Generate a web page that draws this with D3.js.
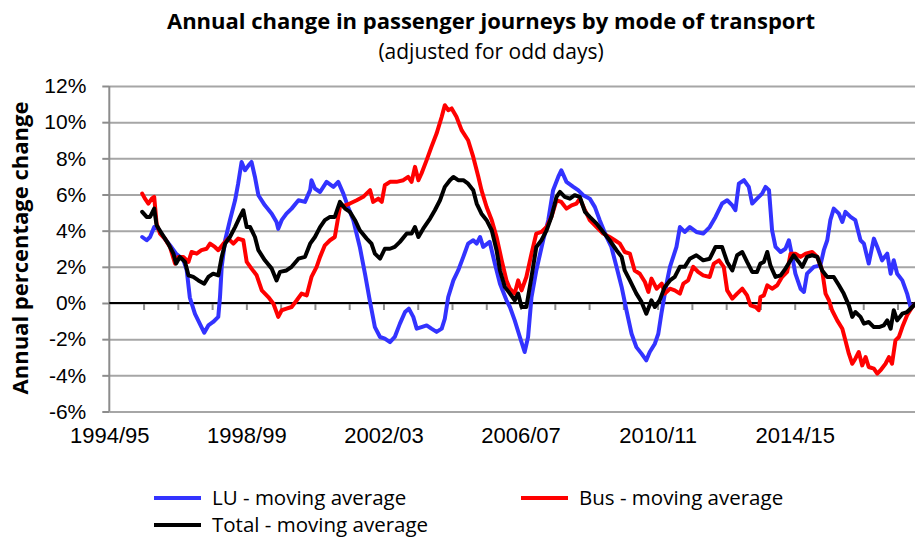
<!DOCTYPE html>
<html>
<head>
<meta charset="utf-8">
<title>Annual change in passenger journeys</title>
<style type="text/css">
body { margin:0; background:#fff; }
svg { display:block; font-family:"Open Sans","Liberation Sans",sans-serif; }
.grid line { stroke:#a6a6a6; stroke-width:2px; }
.grid path { display:none; }
.axis path, .axis line { stroke:#8c8c8c; stroke-width:2px; }
.axis text { font-size:21px; fill:#000; }
.xlab text { font-size:22px; }
.series { fill:none; stroke-width:4px; stroke-linejoin:round; stroke-linecap:round; }
.title { font-weight:bold; font-size:22px; }
.legend text { font-size:20.5px; }
</style>
</head>
<body>
<div id="chart"></div>
<script src="https://cdn.jsdelivr.net/npm/d3@7"></script>
<script type="text/javascript">

// x value = start year of the financial year (fractional = periods through the year)
var yearLabels = ["1994/95","1998/99","2002/03","2006/07","2010/11","2014/15"];
var labelYears = [1994,1998,2002,2006,2010,2014];
var yTicks = [-6,-4,-2,0,2,4,6,8,10,12];

var lu = [[1994.96,3.65],[1995.09,3.47],[1995.19,3.65],[1995.31,4.2],[1995.43,4.1],[1995.58,3.65],[1995.77,3.2],[1995.96,2.7],[1996.16,2.4],[1996.26,1.8],[1996.35,0.3],[1996.5,-0.6],[1996.69,-1.33],[1996.77,-1.64],[1996.89,-1.24],[1997.03,-1.05],[1997.18,-0.77],[1997.23,0.33],[1997.28,2.0],[1997.38,3.47],[1997.52,4.58],[1997.67,5.68],[1997.76,6.6],[1997.86,7.8],[1997.96,7.34],[1998.06,7.6],[1998.15,7.8],[1998.25,6.97],[1998.35,5.96],[1998.54,5.4],[1998.74,4.94],[1998.88,4.48],[1998.93,4.1],[1999.03,4.58],[1999.17,4.94],[1999.32,5.22],[1999.52,5.68],[1999.71,5.59],[1999.86,6.24],[1999.9,6.79],[2000.0,6.33],
	[2000.15,6.14],[2000.34,6.7],[2000.54,6.42],[2000.68,6.7],[2000.83,6.05],[2000.97,5.3],[2001.12,4.58],[2001.31,3.1],[2001.46,1.62],[2001.6,0.15],[2001.75,-1.33],[2001.9,-1.88],[2002.04,-1.97],[2002.19,-2.16],[2002.33,-1.88],[2002.48,-1.14],[2002.63,-0.5],[2002.74,-0.31],[2002.87,-0.77],[2002.97,-1.42],[2003.11,-1.33],[2003.26,-1.24],[2003.4,-1.42],[2003.55,-1.6],[2003.7,-1.42],[2003.79,-0.87],[2003.89,0.33],[2004.04,1.25],[2004.18,1.8],[2004.33,2.55],[2004.47,3.28],[2004.62,3.47],[2004.72,3.28],[2004.82,3.65],[2004.91,3.1],[2005.1,3.38],[2005.25,2.18],[2005.4,1.07],[2005.59,0.15],
	[2005.69,-0.22],[2005.83,-0.96],[2005.98,-1.88],[2006.12,-2.71],[2006.22,-1.88],[2006.32,0.33],[2006.46,1.8],[2006.66,3.47],[2006.81,4.58],[2006.95,6.24],[2007.1,6.97],[2007.19,7.34],[2007.34,6.7],[2007.54,6.42],[2007.68,6.24],[2007.83,5.96],[2008.02,5.77],[2008.17,5.3],[2008.31,4.58],[2008.51,3.65],[2008.65,3.1],[2008.8,2.0],[2008.95,0.89],[2009.09,-0.4],[2009.24,-1.7],[2009.38,-2.44],[2009.53,-2.8],[2009.67,-3.17],[2009.77,-2.71],[2009.92,-2.25],[2010.02,-1.7],[2010.11,-0.59],[2010.26,1.07],[2010.36,2.0],[2010.55,3.1],[2010.65,4.2],[2010.79,3.93],[2010.94,4.2],[2011.13,3.93],[2011.33,3.84],[2011.52,4.2],
	[2011.69,4.76],[2011.88,5.5],[2012.03,5.68],[2012.18,5.4],[2012.27,5.13],[2012.37,6.6],[2012.52,6.79],[2012.66,6.42],[2012.76,5.5],[2012.9,5.77],[2013.05,6.05],[2013.15,6.42],[2013.25,6.24],[2013.34,4.02],[2013.44,3.1],[2013.59,2.82],[2013.73,3.0],[2013.83,3.47],[2013.93,2.55],[2014.02,1.62],[2014.17,0.79],[2014.27,0.61],[2014.36,1.62],[2014.56,2.0],[2014.75,2.08],[2014.85,2.92],[2014.95,3.47],[2015.04,4.58],[2015.14,5.22],[2015.29,4.94],[2015.39,4.48],[2015.48,5.04],[2015.63,4.76],[2015.77,4.58],[2015.92,3.47],[2016.02,3.28],[2016.16,2.18],[2016.31,3.56],[2016.41,3.1],[2016.55,2.36],[2016.7,2.73],[2016.8,1.62],[2016.89,2.36],[2016.99,1.62],[2017.14,1.25],[2017.28,0.52],[2017.38,-0.22],[2017.53,-0.04]];

var bus = [[1994.96,6.05],[1995.04,5.77],[1995.14,5.5],[1995.24,5.77],[1995.31,5.87],[1995.38,4.39],[1995.48,3.84],[1995.62,3.56],[1995.77,3.1],[1995.92,2.18],[1996.01,2.55],[1996.16,2.55],[1996.31,2.27],[1996.4,2.82],[1996.55,2.73],[1996.69,2.92],[1996.84,3.0],[1996.94,3.28],[1997.08,3.1],[1997.18,2.92],[1997.33,3.28],[1997.47,3.56],[1997.62,3.28],[1997.76,3.56],[1997.91,3.47],[1998.01,2.27],[1998.15,1.9],[1998.3,1.53],[1998.45,0.7],[1998.64,0.33],[1998.79,-0.04],[1998.93,-0.77],[1999.03,-0.4],[1999.17,-0.31],[1999.32,-0.22],[1999.47,0.15],[1999.61,0.52],[1999.76,0.42],[1999.9,1.44],[2000.05,2.0],
	[2000.15,2.55],[2000.29,3.19],[2000.44,3.47],[2000.58,3.65],[2000.73,5.31],[2000.88,5.4],[2001.02,5.5],[2001.22,5.68],[2001.41,5.87],[2001.61,6.24],[2001.7,5.59],[2001.85,5.77],[2001.95,5.59],[2002.04,6.51],[2002.19,6.7],[2002.38,6.7],[2002.58,6.79],[2002.72,6.97],[2002.82,6.7],[2002.92,7.53],[2003.02,6.79],[2003.11,7.16],[2003.26,7.9],[2003.4,8.63],[2003.55,9.37],[2003.7,10.3],[2003.79,10.94],[2003.89,10.66],[2003.99,10.76],[2004.13,10.3],[2004.28,9.56],[2004.47,9.0],[2004.62,8.08],[2004.77,6.97],[2004.86,6.24],[2005.01,5.31],[2005.16,4.58],[2005.3,3.65],[2005.45,2.36],[2005.59,1.25],
	[2005.69,0.79],[2005.83,0.52],[2005.93,1.25],[2006.03,0.7],[2006.17,1.44],[2006.32,2.73],[2006.46,3.84],[2006.61,3.93],[2006.76,4.2],[2006.9,4.76],[2007.05,5.68],[2007.19,5.59],[2007.34,5.22],[2007.49,5.4],[2007.63,5.5],[2007.73,5.77],[2007.88,5.13],[2008.02,4.58],[2008.22,4.2],[2008.41,3.84],[2008.6,3.65],[2008.75,3.47],[2008.9,3.28],[2009.04,2.82],[2009.19,2.73],[2009.33,1.8],[2009.48,1.62],[2009.63,1.16],[2009.73,0.61],[2009.82,1.35],[2009.97,0.79],[2010.12,1.07],[2010.21,0.52],[2010.36,0.79],[2010.5,0.7],[2010.65,0.52],[2010.75,1.07],[2010.89,1.25],[2011.04,2.0],[2011.18,1.72],[2011.33,1.53],[2011.52,1.44],
	[2011.64,2.18],[2011.79,2.36],[2011.93,2.0],[2012.03,0.7],[2012.18,0.24],[2012.32,0.52],[2012.47,0.79],[2012.61,0.42],[2012.71,-0.13],[2012.86,-0.22],[2012.95,-0.4],[2013.0,0.33],[2013.1,0.42],[2013.2,0.98],[2013.34,0.79],[2013.49,0.98],[2013.63,1.44],[2013.78,1.72],[2013.88,2.73],[2014.02,2.73],[2014.17,2.55],[2014.32,2.73],[2014.51,2.82],[2014.66,2.55],[2014.8,1.8],[2014.9,0.52],[2015.0,0.15],[2015.09,-0.4],[2015.24,-0.96],[2015.39,-1.42],[2015.48,-2.07],[2015.58,-2.8],[2015.68,-3.36],[2015.77,-3.08],[2015.87,-2.71],[2015.97,-3.45],[2016.07,-2.99],[2016.16,-3.54],[2016.31,-3.63],[2016.41,-3.91],[2016.5,-3.73],[2016.65,-3.36],[2016.75,-2.99],[2016.84,-3.36],[2016.94,-2.07],[2017.04,-1.88],[2017.14,-1.33],[2017.28,-0.68],[2017.43,-0.22],[2017.53,-0.04]];

var total = [[1994.96,5.04],[1995.09,4.76],[1995.19,4.76],[1995.31,5.22],[1995.38,4.3],[1995.53,3.84],[1995.72,3.28],[1995.87,2.73],[1995.95,2.18],[1996.06,2.55],[1996.21,2.27],[1996.31,1.53],[1996.45,1.44],[1996.6,1.25],[1996.77,1.07],[1996.89,1.44],[1997.03,1.62],[1997.18,1.53],[1997.28,2.55],[1997.38,3.28],[1997.52,3.65],[1997.67,4.2],[1997.81,4.76],[1997.91,5.13],[1998.01,4.2],[1998.11,4.2],[1998.25,3.65],[1998.35,2.92],[1998.54,2.36],[1998.74,1.9],[1998.88,1.25],[1998.98,1.72],[1999.17,1.8],[1999.32,2.0],[1999.52,2.45],[1999.71,2.55],[1999.86,3.28],[2000.0,3.65],
	[2000.15,4.2],[2000.29,4.58],[2000.44,4.76],[2000.58,4.76],[2000.73,5.59],[2000.88,5.22],[2001.02,5.04],[2001.17,4.58],[2001.31,4.02],[2001.51,3.56],[2001.65,3.28],[2001.75,2.73],[2001.9,2.45],[2002.04,3.0],[2002.19,3.0],[2002.33,3.1],[2002.48,3.38],[2002.68,3.84],[2002.82,3.84],[2002.92,4.2],[2003.02,3.65],[2003.16,4.11],[2003.36,4.67],[2003.5,5.13],[2003.65,5.68],[2003.79,6.42],[2003.94,6.79],[2004.04,6.97],[2004.18,6.79],[2004.33,6.79],[2004.47,6.6],[2004.62,6.24],[2004.72,5.5],[2004.86,4.94],[2005.01,4.58],[2005.16,4.02],[2005.3,2.92],[2005.4,1.8],[2005.54,0.89],
	[2005.69,0.52],[2005.83,0.15],[2005.93,0.52],[2006.03,-0.22],[2006.17,-0.22],[2006.32,1.44],[2006.46,3.1],[2006.61,3.47],[2006.76,4.02],[2006.9,4.76],[2007.05,5.87],[2007.15,6.14],[2007.29,5.87],[2007.44,5.77],[2007.58,5.96],[2007.73,5.87],[2007.88,5.04],[2008.02,4.76],[2008.22,4.39],[2008.41,3.93],[2008.6,3.47],[2008.8,2.92],[2008.95,2.55],[2009.04,1.8],[2009.19,1.25],[2009.38,0.52],[2009.53,0.06],[2009.67,-0.59],[2009.82,0.15],[2009.92,-0.22],[2010.06,0.15],[2010.21,0.89],[2010.36,1.25],[2010.5,1.44],[2010.65,2.0],[2010.79,2.0],[2010.94,2.45],[2011.13,2.64],[2011.33,2.36],[2011.52,2.45],
	[2011.69,3.1],[2011.88,3.1],[2012.03,2.27],[2012.18,1.8],[2012.32,2.64],[2012.47,2.82],[2012.61,2.27],[2012.76,1.72],[2012.9,1.72],[2013.0,2.18],[2013.1,2.27],[2013.2,2.82],[2013.29,2.08],[2013.44,1.44],[2013.59,1.53],[2013.73,1.9],[2013.88,2.36],[2013.97,2.64],[2014.12,2.27],[2014.22,2.0],[2014.36,2.55],[2014.51,2.64],[2014.66,2.55],[2014.8,1.8],[2014.95,1.44],[2015.14,1.44],[2015.29,0.98],[2015.43,0.52],[2015.58,-0.13],[2015.68,-0.77],[2015.77,-0.5],[2015.92,-0.77],[2016.02,-1.14],[2016.16,-1.05],[2016.31,-1.33],[2016.46,-1.33],[2016.6,-1.24],[2016.7,-0.96],[2016.8,-1.42],[2016.89,-0.4],[2016.99,-0.96],[2017.14,-0.59],[2017.28,-0.5],[2017.43,-0.22],[2017.53,-0.04]];

var seriesNames = ["LU - moving average","Bus - moving average","Total - moving average"];
var seriesColors = ["#3333ff","#ff0000","#000000"];

var W = 915, H = 537;
var plot = {left:109.3, right:915, top:86, bottom:411.5};

var svg = d3.select("#chart").append("svg")
	.attr("width",W)
	.attr("height",H);

// year -> px, 34.27px per year
var x = d3.scaleLinear().domain([1994,2018]).range([plot.left, plot.left + 24*34.27]);
var y = d3.scaleLinear().domain([-6,12]).range([plot.bottom, plot.top]);

// gridlines
svg.append("g")
	.attr("class","grid")
	.attr("transform","translate("+plot.left+",0)")
	.call(d3.axisLeft(y).tickValues(yTicks).tickSize(-(W - plot.left)).tickFormat(""));

// y axis
var yAxis = svg.append("g")
	.attr("class","axis")
	.attr("transform","translate("+plot.left+",0)")
	.call(d3.axisLeft(y).tickValues(yTicks).tickSize(7).tickPadding(16).tickFormat(function(d){ return d+"%"; }));
yAxis.select(".domain").attr("d","M0,"+plot.top+"V"+plot.bottom);

// yearly tick marks on the zero line
var xTicks = svg.append("g")
	.attr("class","axis")
	.attr("transform","translate(0,"+y(0)+")")
	.call(d3.axisBottom(x).tickValues(d3.range(1995,2018)).tickSize(7).tickFormat(""));
xTicks.select(".domain").remove();

svg.append("line")
	.attr("x1",plot.left).attr("x2",W)
	.attr("y1",y(0)).attr("y2",y(0))
	.attr("stroke","#000").attr("stroke-width",2);

// x labels
var xLab = svg.append("g")
	.attr("class","axis xlab")
	.attr("transform","translate(0,"+(plot.bottom+13)+")")
	.call(d3.axisBottom(x).tickValues(labelYears).tickSize(0)
		.tickFormat(function(d,i){ return yearLabels[i]; }));
xLab.select(".domain").remove();

// lines
var line = d3.line()
	.x(function(d){ return x(d[0]); })
	.y(function(d){ return y(d[1]); });

svg.selectAll(".series")
	.data([lu,bus,total])
	.enter().append("path")
	.attr("class","series")
	.attr("stroke",function(d,i){ return seriesColors[i]; })
	.attr("d",line);

// titles
svg.append("text")
	.attr("class","title")
	.attr("x",491).attr("y",29)
	.attr("text-anchor","middle")
	.text("Annual change in passenger journeys by mode of transport");

svg.append("text")
	.attr("x",491).attr("y",59)
	.attr("text-anchor","middle")
	.style("font-size","21px")
	.text("(adjusted for odd days)");

svg.append("text")
	.attr("class","title")
	.attr("transform","translate(28,248) rotate(-90)")
	.attr("text-anchor","middle")
	.text("Annual percentage change");

// legend
var legendPos = [[154,498],[521,498],[154,525]];

var legend = svg.selectAll(".legend")
	.data(seriesNames)
	.enter().append("g")
	.attr("class","legend")
	.attr("transform",function(d,i){ return "translate("+legendPos[i][0]+","+legendPos[i][1]+")"; });

legend.append("line")
	.attr("x1",0).attr("x2",47)
	.attr("stroke",function(d,i){ return seriesColors[i]; })
	.attr("stroke-width",4);

legend.append("text")
	.attr("x",58).attr("y",7)
	.text(String);

</script>
</body>
</html>
